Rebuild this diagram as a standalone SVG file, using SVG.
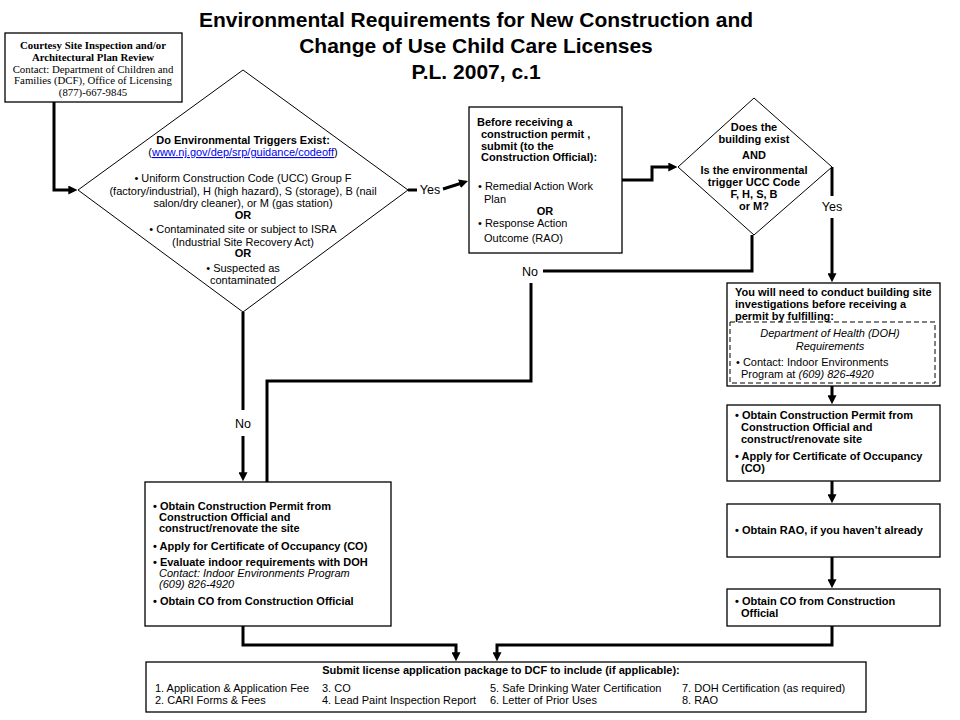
<svg xmlns="http://www.w3.org/2000/svg" width="960" height="720" viewBox="0 0 960 720">
<style>
.t{font-family:"Liberation Sans",Arial,sans-serif;font-size:11px;fill:#000}
.b{font-weight:bold}
.i{font-style:italic}
.c{text-anchor:middle}
.serif{font-family:"Liberation Serif","Times New Roman",serif;font-size:10.8px}
.title{font-family:"Liberation Sans",Arial,sans-serif;font-size:21px;font-weight:bold;text-anchor:middle}
.box{fill:#fff;stroke:#000;stroke-width:1.3}
.dia{fill:#fff;stroke:#000;stroke-width:1}
.con{fill:none;stroke:#000;stroke-width:3}
.lbl{font-family:"Liberation Sans",Arial,sans-serif;font-size:12.5px;text-anchor:middle}
</style>
<defs>
<marker id="ah" viewBox="0 0 10 10" markerUnits="userSpaceOnUse" markerWidth="9" markerHeight="9" refX="3" refY="5" orient="auto">
<path d="M0,0 L10,5 L0,10 z" fill="#000"/>
</marker>
</defs>
<rect width="960" height="720" fill="#fff"/>
<g id="title">
<text class="title" x="476" y="27">Environmental Requirements for New Construction and</text>
<text class="title" x="476" y="53">Change of Use Child Care Licenses</text>
<text class="title" x="476" y="79">P.L. 2007, c.1</text>
</g>
<g id="connectors">
<path class="con" d="M54,102 V190 H71" marker-end="url(#ah)"/>
<path class="con" d="M408,190 H417"/>
<path class="con" d="M443,189 L462,183" marker-end="url(#ah)"/>
<path class="con" d="M622,180 H652 V167 H671" marker-end="url(#ah)"/>
<path class="con" d="M752,235 V271 H543"/>
<path class="con" d="M531,283 V381 H267 V482"/>
<path class="con" d="M243,312 V410"/>
<path class="con" d="M243,436 V475" marker-end="url(#ah)"/>
<path class="con" d="M832,167 V196"/>
<path class="con" d="M832,218 V276" marker-end="url(#ah)"/>
<path class="con" d="M832,386 V398" marker-end="url(#ah)"/>
<path class="con" d="M832,481 V497" marker-end="url(#ah)"/>
<path class="con" d="M832,557 V582" marker-end="url(#ah)"/>
<path class="con" d="M832,626 V645 H497 V655" marker-end="url(#ah)"/>
<path class="con" d="M243,626 V645 H456 V655" marker-end="url(#ah)"/>
<text class="lbl" x="430" y="194">Yes</text>
<text class="lbl" x="530" y="276">No</text>
<text class="lbl" x="243" y="428">No</text>
<text class="lbl" x="832" y="211">Yes</text>
</g>
<g id="courtesy">
<rect class="box" x="5" y="33" width="177" height="69"/>
<text class="serif b c" x="93" y="49">Courtesy Site Inspection and/or</text>
<text class="serif b c" x="93" y="61">Architectural Plan Review</text>
<text class="serif c" x="93" y="72.5">Contact: Department of Children and</text>
<text class="serif c" x="93" y="84">Families (DCF), Office of Licensing</text>
<text class="serif c" x="93" y="96">(877)-667-9845</text>
</g>
<g id="triggers">
<polygon class="dia" points="243,70 408,190 243,312 78,190"/>
<text class="t b c" x="243" y="144">Do Environmental Triggers Exist:</text>
<text class="t c" x="243" y="156">(<tspan fill="#0000ee" text-decoration="underline">www.nj.gov/dep/srp/guidance/codeoff</tspan>)</text>
<text class="t c" x="243" y="182">• Uniform Construction Code (UCC) Group F</text>
<text class="t c" x="243" y="195">(factory/industrial), H (high hazard), S (storage), B (nail</text>
<text class="t c" x="243" y="207">salon/dry cleaner), or M (gas station)</text>
<text class="t b c" x="243" y="219">OR</text>
<text class="t c" x="243" y="233">• Contaminated site or subject to ISRA</text>
<text class="t c" x="243" y="246">(Industrial Site Recovery Act)</text>
<text class="t b c" x="243" y="257">OR</text>
<text class="t c" x="243" y="272">• Suspected as</text>
<text class="t c" x="243" y="284">contaminated</text>
</g>
<g id="permit-submit">
<rect class="box" x="469" y="107" width="153" height="146"/>
<text class="t b" x="477" y="126">Before receiving a</text>
<text class="t b" x="481" y="138">construction permit ,</text>
<text class="t b" x="481" y="150">submit (to the</text>
<text class="t b" x="481" y="161">Construction  Official):</text>
<text class="t" x="478" y="190">• Remedial Action Work</text>
<text class="t" x="484" y="203">Plan</text>
<text class="t b c" x="545" y="215">OR</text>
<text class="t" x="478" y="227">• Response Action</text>
<text class="t" x="484" y="242">Outcome (RAO)</text>
</g>
<g id="building-exist">
<polygon class="dia" points="754,98 832,167 754,235 678,167"/>
<text class="t b c" x="754" y="131">Does the</text>
<text class="t b c" x="754" y="143">building exist</text>
<text class="t b c" x="754" y="159">AND</text>
<text class="t b c" x="754" y="174">Is the environmental</text>
<text class="t b c" x="754" y="186">trigger UCC Code</text>
<text class="t b c" x="754" y="198">F, H, S, B</text>
<text class="t b c" x="754" y="210">or M?</text>
</g>
<g id="investigations">
<rect class="box" x="727" y="283" width="213" height="103"/>
<text class="t b" x="735" y="296">You will need to conduct building site</text>
<text class="t b" x="735" y="308">investigations before receiving a</text>
<text class="t b" x="735" y="320">permit by fulfilling:</text>
<rect x="730" y="322" width="205" height="61" fill="none" stroke="#000" stroke-width="1" stroke-dasharray="5,3"/>
<text class="t i c" x="830" y="337">Department of Health (DOH)</text>
<text class="t i c" x="830" y="350">Requirements</text>
<text class="t" x="736" y="366">•  Contact: Indoor Environments</text>
<text class="t" x="741" y="378">Program at <tspan font-style="italic">(609) 826-4920</tspan></text>
</g>
<g id="obtain-permit-right">
<rect class="box" x="727" y="405" width="213" height="76"/>
<text class="t b" x="735" y="419">• Obtain Construction Permit from</text>
<text class="t b" x="741" y="431">Construction Official and</text>
<text class="t b" x="741" y="443">construct/renovate site</text>
<text class="t b" x="735" y="460">• Apply for Certificate of Occupancy</text>
<text class="t b" x="741" y="472">(CO)</text>
</g>
<g id="obtain-rao">
<rect class="box" x="727" y="504" width="213" height="53"/>
<text class="t b" x="735" y="534">• Obtain RAO, if you haven’t already</text>
</g>
<g id="obtain-co-right">
<rect class="box" x="727" y="589" width="213" height="37"/>
<text class="t b" x="735" y="605">• Obtain CO from Construction</text>
<text class="t b" x="741" y="617">Official</text>
</g>
<g id="obtain-permit-left">
<rect class="box" x="145" y="482" width="246" height="144"/>
<text class="t b" x="153" y="510">• Obtain Construction Permit from</text>
<text class="t b" x="159" y="521">Construction Official and</text>
<text class="t b" x="159" y="532">construct/renovate the site</text>
<text class="t b" x="153" y="550">• Apply for Certificate of Occupancy (CO)</text>
<text class="t b" x="153" y="566">• Evaluate indoor requirements with DOH</text>
<text class="t i" x="159" y="577">Contact: Indoor Environments Program</text>
<text class="t i" x="159" y="588">(609) 826-4920</text>
<text class="t b" x="153" y="605">• Obtain CO from Construction Official</text>
</g>
<g id="submit-package">
<rect class="box" x="146" y="662" width="720" height="50"/>
<text class="t b c" x="501" y="674">Submit license application package to DCF to include (if applicable):</text>
<text class="t" x="155" y="692">1. Application &amp; Application Fee</text>
<text class="t" x="155" y="704">2. CARI Forms &amp; Fees</text>
<text class="t" x="322" y="692">3. CO</text>
<text class="t" x="322" y="704">4. Lead Paint Inspection Report</text>
<text class="t" x="490" y="692">5. Safe Drinking Water Certification</text>
<text class="t" x="490" y="704">6. Letter of Prior Uses</text>
<text class="t" x="682" y="692">7. DOH Certification (as required)</text>
<text class="t" x="682" y="704">8. RAO</text>
</g>
</svg>
